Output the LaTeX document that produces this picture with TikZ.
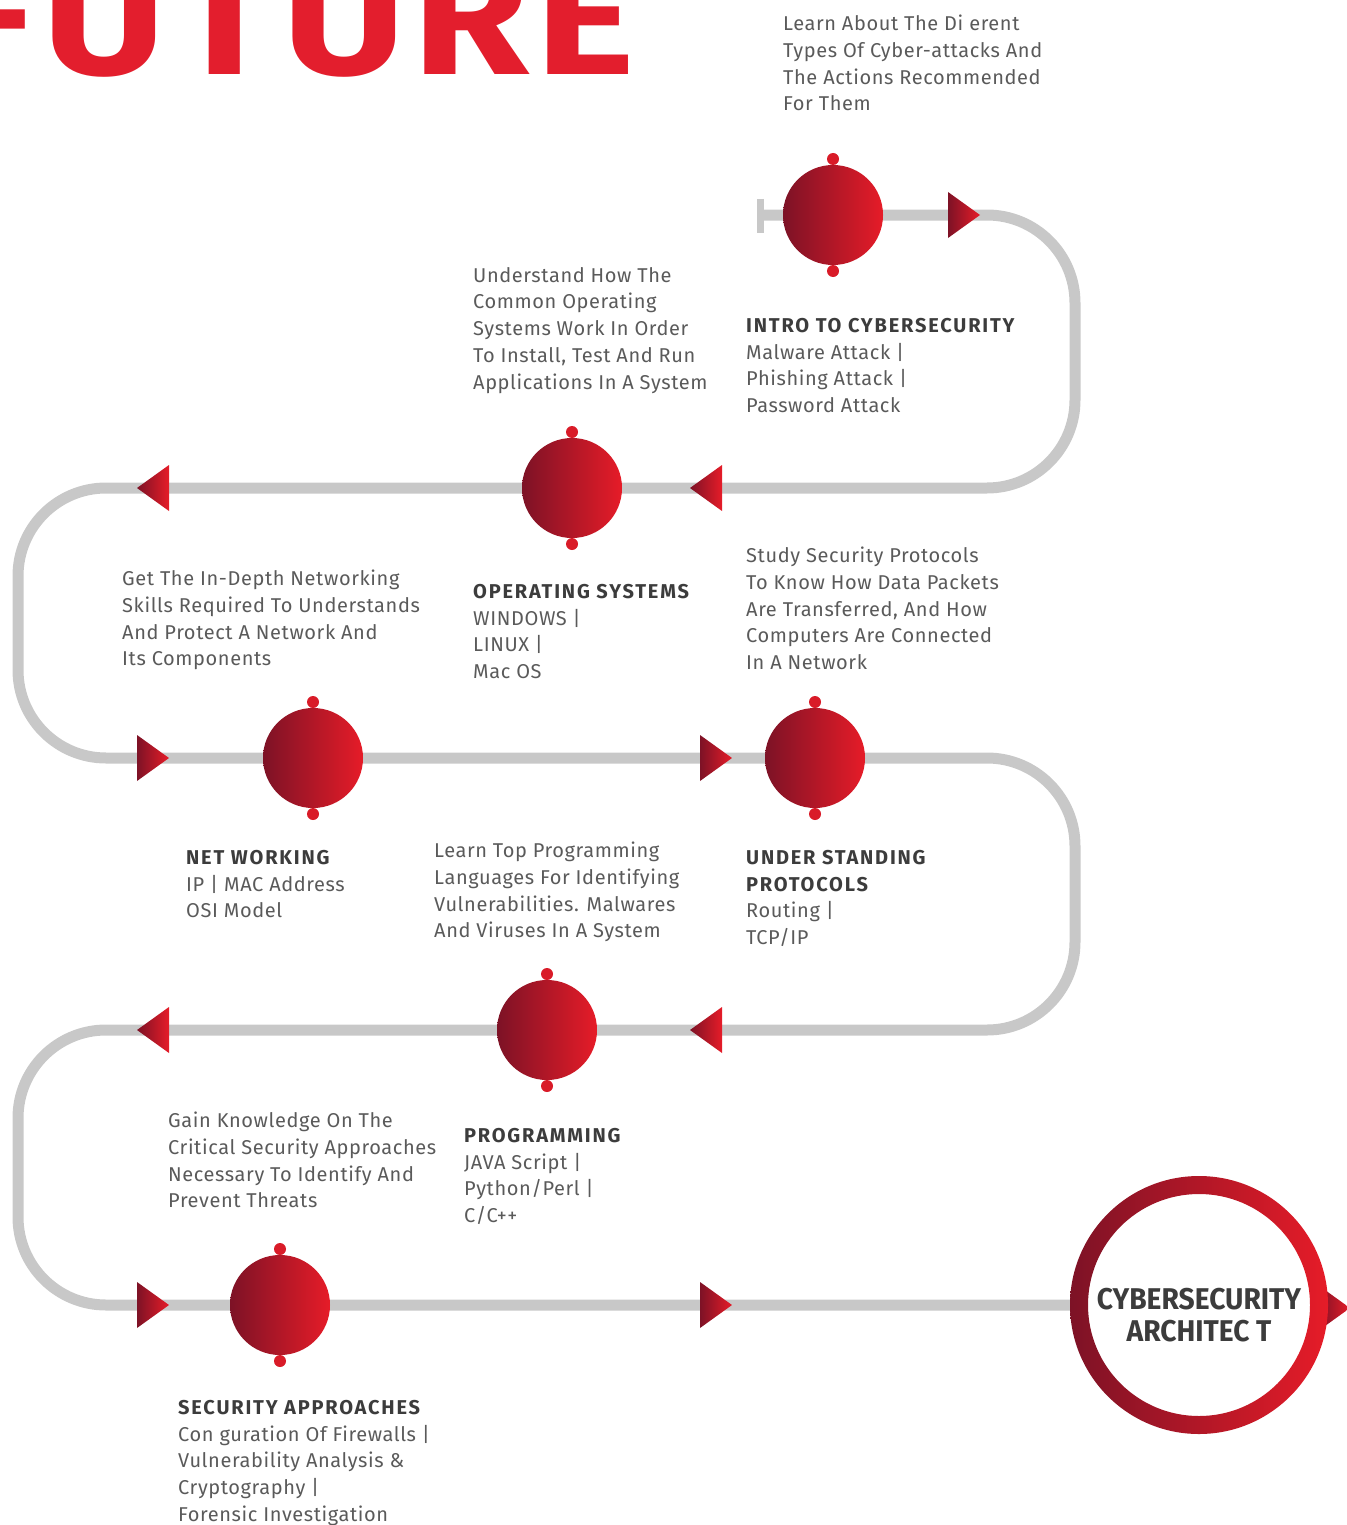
\documentclass[tikz,border=0pt]{standalone}
\usepackage{fontspec}
\setmainfont{Fira Sans}
\definecolor{cred}{RGB}{230,28,40}
\definecolor{cdark}{RGB}{125,18,38}
\definecolor{trk}{RGB}{200,200,200}
\definecolor{txt}{RGB}{90,90,90}
\definecolor{hd}{RGB}{60,60,60}
\definecolor{title}{RGB}{227,30,45}
\tikzset{
  track/.style={draw=trk,line width=11pt,rounded corners=88pt},
  stopnode/.style={circle,minimum size=100pt,inner sep=0pt,outer sep=0pt,left color=cdark,right color=cred},
  dotnode/.style={circle,minimum size=12pt,inner sep=0pt,fill=cred!88!cdark},
  desc/.style={anchor=north west,inner sep=0pt,align=left,text=txt,font=\fontsize{20}{26.7}\selectfont\addfontfeature{LetterSpace=3}},
  trir/.pic={\shade[left color=cdark,right color=cred] (-16,-23) -- (16,0) -- (-16,23) -- cycle;},
  tril/.pic={\shade[left color=cdark,right color=cred] (16,-23) -- (-16,0) -- (16,23) -- cycle;},
}
\newcommand{\hdline}[1]{\textcolor{hd}{\bfseries\addfontfeature{LetterSpace=9}#1}}
\begin{document}
\begin{tikzpicture}[x=1pt,y=-1pt]
\useasboundingbox (0,0) rectangle (1346,1525);
% title
\node[anchor=base east,inner sep=0pt,text=title,font=\fontsize{165}{165}\bfseries\addfontfeature{LetterSpace=3.5}] (ttl) at (636,75) {\scalebox{1.15}[1]{FUTURE}};
% track corners
\coordinate (p0) at (760,215);
\coordinate (p1) at (1075,215);
\coordinate (p2) at (1075,488);
\coordinate (p3) at (18,488);
\coordinate (p4) at (18,758);
\coordinate (p5) at (1075,758);
\coordinate (p6) at (1075,1030);
\coordinate (p7) at (18,1030);
\coordinate (p8) at (18,1305);
\node[circle,minimum size=258pt,inner sep=0pt,outer sep=0pt] (arch) at (1199,1305) {};
\draw[track] (p0) -- (p1) -- (p2) -- (p3) -- (p4) -- (p5) -- (p6) -- (p7) -- (p8) -- (arch.west);
\draw[draw=trk,line width=7pt] (760,199) -- (760,233);
% arrows
\pic at (964,215) {trir};
\pic at (706,488) {tril};
\pic at (153,488) {tril};
\pic at (153,758) {trir};
\pic at (716,758) {trir};
\pic at (706,1030) {tril};
\pic at (153,1030) {tril};
\pic at (153,1305) {trir};
\pic at (716,1305) {trir};
\pic at (1334,1308) {trir};
% stops
\foreach \n/\x/\y in {intro/833/215, os/572/488, net/313/758, prot/815/758, prog/547/1030, sec/280/1305}{
  \node[dotnode] (\n-t) at (\x,\y-56) {};
  \node[dotnode] (\n-b) at (\x,\y+56) {};
  \node[stopnode] (\n) at (\x,\y) {};
}
% end ring
\shade[left color=cdark,right color=cred,even odd rule] (arch.center) circle (129) (arch.center) circle (111);
\node[align=center,text=hd,font=\fontsize{30}{32}\bfseries] (archtxt) at (1199,1315) {\scalebox{0.94}[1]{CYBERSECURITY}\\\scalebox{0.94}[1]{ARCHITEC T}};
% texts
\node[desc] (tA) at (783,15) {Learn About The Di erent\\Types Of Cyber-attacks And\\The Actions Recommended\\For Them};
\node[desc] (tB) at (746,318) {\hdline{INTRO TO CYBERSECURITY}\\Malware Attack |\\Phishing Attack |\\Password Attack};
\node[desc] (tC) at (473,267) {Understand How The\\Common Operating\\Systems Work In Order\\To Install, Test And Run\\Applications In A System};
\node[desc] (tD) at (473,584) {\hdline{OPERATING SYSTEMS}\\WINDOWS |\\LINUX |\\Mac OS};
\node[desc] (tE) at (122,570) {Get The In-Depth Networking\\Skills Required To Understands\\And Protect A Network And\\Its Components};
\node[desc] (tF) at (746,547) {Study Security Protocols\\To Know How Data Packets\\Are Transferred, And How\\Computers Are Connected\\In A Network};
\node[desc] (tG) at (186,850) {\hdline{NET WORKING}\\IP | MAC Address\\OSI Model};
\node[desc] (tH) at (434,842) {Learn Top Programming\\Languages For Identifying\\Vulnerabilities. Malwares\\And Viruses In A System};
\node[desc] (tI) at (746,850) {\hdline{UNDER STANDING}\\\hdline{PROTOCOLS}\\Routing |\\TCP/IP};
\node[desc] (tJ) at (168,1112) {Gain Knowledge On The\\Critical Security Approaches\\Necessary To Identify And\\Prevent Threats};
\node[desc] (tK) at (464,1128) {\hdline{PROGRAMMING}\\JAVA Script |\\Python/Perl |\\C/C++};
\node[desc] (tL) at (178,1400) {\hdline{SECURITY APPROACHES}\\Con guration Of Firewalls |\\Vulnerability Analysis \&\\Cryptography |\\Forensic Investigation};
\end{tikzpicture}
\end{document}
